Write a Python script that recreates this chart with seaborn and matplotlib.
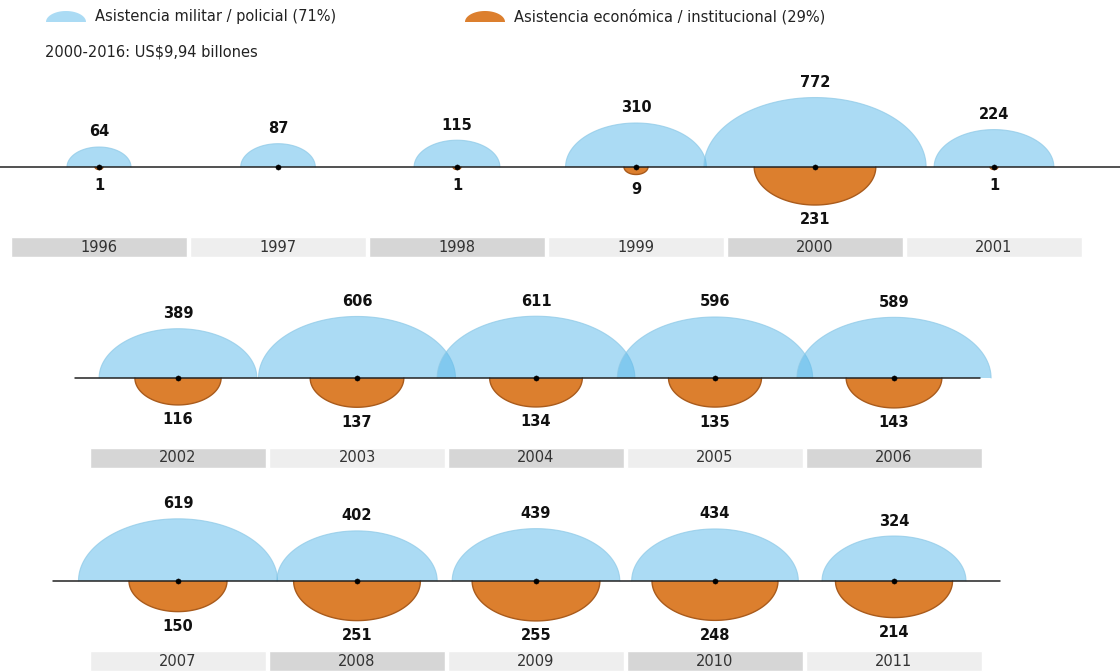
import numpy as np
import matplotlib
matplotlib.use("Agg")
import matplotlib.pyplot as plt
import seaborn as sns
import pandas as pd

# datos (millones de US$)
years = [1996, 1997, 1998, 1999, 2000, 2001,
         2002, 2003, 2004, 2005, 2006,
         2007, 2008, 2009, 2010, 2011]
militar = [64, 87, 115, 310, 772, 224,
           389, 606, 611, 596, 589,
           619, 402, 439, 434, 324]
economica = [1, 0, 1, 9, 231, 1,
             116, 137, 134, 135, 143,
             150, 251, 255, 248, 214]
row_sizes = [6, 5, 5]

legend_mil = "Asistencia militar / policial (71%)"
legend_eco = "Asistencia económica / institucional (29%)"
subtitle = "2000-2016: US$9,94 billones"

BLUE = "#59b9eb"
BLUE_EDGE = "#8cc8e6"
ORANGE = "#dc7f2e"
ORANGE_EDGE = "#a95b1c"
BOX_DARK = "#d6d6d6"
BOX_LIGHT = "#eeeeee"

sns.set_theme(style="white")
plt.rcParams['font.family'] = ['DejaVu Sans']

# layout en pixeles
baselines = [167, 378, 581]
row_x0 = [99, 178, 178]
step = 179
line_span = [(0, 1120), (75, 980), (53, 1000)]
kx, ky = 4.0, 2.5

rows = []
for r, n in enumerate(row_sizes):
    rows += [r] * n
cols = []
for n in row_sizes:
    cols += list(range(n))
df = pd.DataFrame({"year": years, "mil": militar, "eco": economica,
                   "row": rows, "col": cols})
df["cx"] = [row_x0[r] + c * step for r, c in zip(df["row"], df["col"])]
df["cy"] = [baselines[r] for r in df["row"]]

fig = plt.figure(figsize=(11.2, 6.72), dpi=100)
ax = fig.add_axes([0, 0, 1, 1])
ax.set_xlim(0, 1120)
ax.set_ylim(672, 0)
ax.axis("off")


def half_ellipse(cx, cy, rx, ry, up=True):
    t = np.linspace(0, np.pi, 80)
    xs = cx + rx * np.cos(t)
    ys = cy - ry * np.sin(t) if up else cy + ry * np.sin(t)
    return xs, ys


# lineas base
for r, (x0, x1) in enumerate(line_span):
    ax.plot([x0, x1], [baselines[r], baselines[r]], color="#222222", lw=1.1, zorder=3)

for _, d in df.iterrows():
    rm = np.sqrt(d["mil"])
    xs, ys = half_ellipse(d["cx"], d["cy"], kx * rm, ky * rm, up=True)
    ax.fill(xs, ys, color=BLUE, alpha=0.5, lw=0, zorder=1)
    ax.plot(xs, ys, color=BLUE_EDGE, lw=0.8, alpha=0.7, zorder=1)
    ax.text(d["cx"], d["cy"] - ky * rm - 15, f"{d['mil']}", ha="center", va="center",
            fontsize=10.5, fontweight="bold", color="#111111")
    if d["eco"] > 0:
        re = np.sqrt(d["eco"])
        xs, ys = half_ellipse(d["cx"], d["cy"], kx * re, ky * re, up=False)
        ax.fill(xs, ys, color=ORANGE, lw=0, zorder=2)
        ax.plot(xs, ys, color=ORANGE_EDGE, lw=1.0, zorder=2)
        ax.text(d["cx"], d["cy"] + max(ky * re, 4) + 15, f"{d['eco']}", ha="center",
                va="center", fontsize=10.5, fontweight="bold", color="#111111")
    # caja del año
    dark = (d["row"] < 2 and d["col"] % 2 == 0) or (d["row"] == 2 and d["col"] % 2 == 1)
    ax.add_patch(plt.Rectangle((d["cx"] - 88, d["cy"] + 70), 176, 20,
                               facecolor=BOX_DARK if dark else BOX_LIGHT,
                               edgecolor="white", lw=1, zorder=1))
    ax.text(d["cx"], d["cy"] + 80, str(d["year"]), ha="center", va="center",
            fontsize=10.5, color="#333333")

# puntos centrales
sns.scatterplot(data=df, x="cx", y="cy", color="black", s=14, edgecolor=None,
                ax=ax, zorder=4, legend=False)
ax.set_xlim(0, 1120)
ax.set_ylim(672, 0)
ax.axis("off")

# leyenda
xs, ys = half_ellipse(66, 22, 20, 11)
ax.fill(xs, ys, color=BLUE, alpha=0.5, lw=0)
ax.text(95, 17, legend_mil, ha="left", va="center", fontsize=10.5, color="#222222")
xs, ys = half_ellipse(485, 22, 20, 11)
ax.fill(xs, ys, color=ORANGE, lw=0)
ax.text(514, 17, legend_eco, ha="left", va="center", fontsize=10.5, color="#222222")
ax.text(45, 52, subtitle, ha="left", va="center", fontsize=10.5, color="#222222")

fig.savefig("out.png", dpi=100)
